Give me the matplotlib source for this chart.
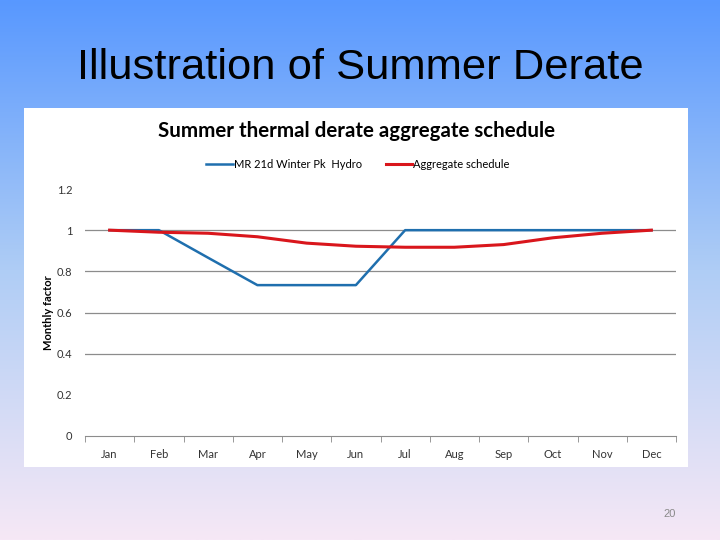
# slide with monthly summer thermal derate chart
import numpy as np
import matplotlib

matplotlib.use('Agg')
import matplotlib.pyplot as plt

# chart data
months = ['Jan', 'Feb', 'Mar', 'Apr', 'May', 'Jun',
          'Jul', 'Aug', 'Sep', 'Oct', 'Nov', 'Dec']
hydro = [1.0, 1.0, 0.866, 0.733, 0.733, 0.733, 1.0, 1.0, 1.0, 1.0, 1.0, 1.0]
aggregate = [1.0, 0.99, 0.985, 0.968, 0.937, 0.922, 0.917, 0.917, 0.93, 0.963, 0.985, 1.0]
y_ticks = [0, 0.2, 0.4, 0.6, 0.8, 1, 1.2]
y_labels = ['0', '0.2', '0.4', '0.6', '0.8', '1', '1.2']

W, H = 720, 540
fig = plt.figure(figsize=(7.2, 5.4), dpi=100)

# slide background gradient
bg = fig.add_axes([0, 0, 1, 1])
top = np.array([88, 152, 255]) / 255
mid = np.array([175, 205, 245]) / 255
bot = np.array([246, 232, 246]) / 255
t = np.linspace(0, 1, 256)[:, None]
grad = np.where(t < 0.5, top + (mid - top) * (t / 0.5), mid + (bot - mid) * ((t - 0.5) / 0.5))
bg.imshow(grad[:, None, :], aspect='auto', extent=[0, 1, 0, 1])
bg.set_axis_off()

fig.text(360 / W, 1 - 68 / H, 'Illustration of Summer Derate', ha='center', va='center',
         fontsize=31.3, family='Liberation Sans', color='black')
fig.text(670 / W, 1 - 514 / H, '20', ha='center', va='center', fontsize=8,
         family='Liberation Sans', color='#8a8a8a')

# white chart panel
panel = fig.add_axes([24 / W, 1 - 467 / H, 664 / W, 359 / H])
panel.set_facecolor('white')
panel.set_xticks([])
panel.set_yticks([])
for s in panel.spines.values():
    s.set_visible(False)

fig.text(356 / W, 1 - 131 / H, 'Summer thermal derate aggregate schedule', ha='center',
         va='center', fontsize=14.8, fontweight='bold', family='Lato')

# plot area
ax = fig.add_axes([85 / W, 1 - 436 / H, 591 / W, 247 / H])
ax.set_facecolor('none')
x = np.arange(len(months))
ax.plot(x, hydro, color='#1f6fae', lw=1.8, label='MR 21d Winter Pk  Hydro', zorder=3)
ax.plot(x, aggregate, color='#d9161c', lw=2.2, label='Aggregate schedule', zorder=4)
ax.set_xlim(-0.5, len(months) - 0.5)
ax.set_ylim(0, 1.2)
ax.set_yticks(y_ticks)
ax.set_yticklabels(y_labels)
ax.set_xticks(x)
ax.set_xticklabels(months)
ax.set_xticks(np.arange(-0.5, len(months) - 0.4, 1), minor=True)
ax.tick_params(axis='x', which='major', length=0, pad=9)
ax.tick_params(axis='x', which='minor', length=4, color='#888888')
ax.tick_params(axis='y', length=0, pad=9)
for lab in ax.get_xticklabels() + ax.get_yticklabels():
    lab.set_fontsize(8)
    lab.set_family('Lato')
    lab.set_color('#333333')
for yv in [0.4, 0.6, 0.8, 1.0]:
    ax.axhline(yv, color='#8c8c8c', lw=0.9, zorder=1)
for side in ['top', 'right', 'left']:
    ax.spines[side].set_visible(False)
ax.spines['bottom'].set_color('#8c8c8c')
ax.set_ylabel('Monthly factor', fontsize=8, fontweight='bold', family='Lato', labelpad=2)
ax.legend(loc='center', bbox_to_anchor=(0.462, 1.101), ncol=2, frameon=False,
          handlelength=2.4, handletextpad=0.1, columnspacing=2.1,
          prop={'family': 'Lato', 'size': 8})

fig.savefig('out.png', dpi=100)
